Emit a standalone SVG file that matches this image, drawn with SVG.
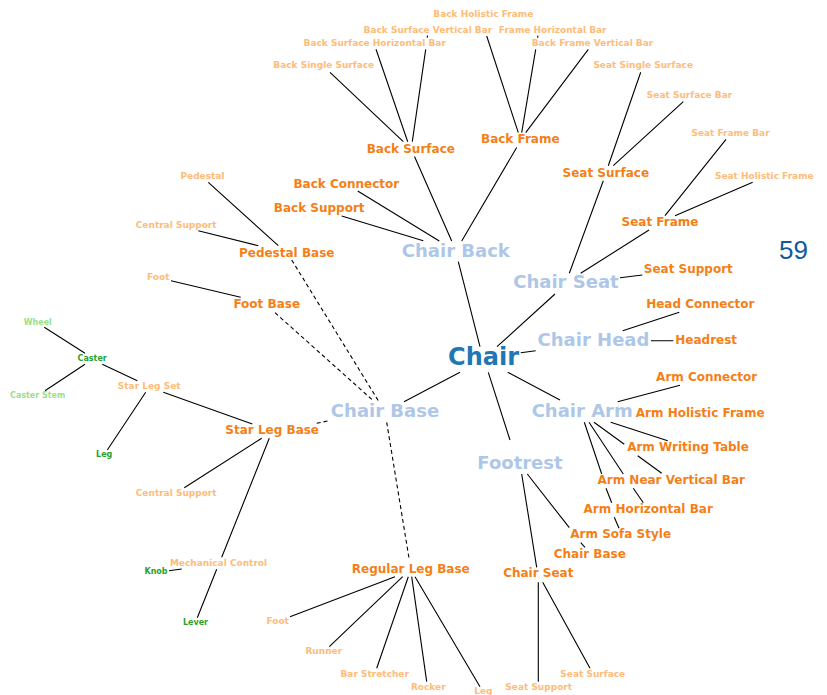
<svg xmlns="http://www.w3.org/2000/svg" width="827" height="695" viewBox="0 0 827 695">
<style>
text{font-family:"DejaVu Sans","Noto Sans",sans-serif;font-weight:bold;text-anchor:middle}
.l0{font-size:24px;fill:#1f77b4}
.l1{font-size:18px;fill:#aec7e8}
.l2{font-size:12px;fill:#f57f17}
.l3{font-size:9px;fill:#ffbb78}
.l4{font-size:8px;fill:#2ca02c}
.l5{font-size:8px;fill:#98df8a}
.num{font-family:"Liberation Sans",Arial,sans-serif;font-weight:normal;font-size:26px;fill:#0f5a9e}
.e{stroke:#000;stroke-width:1.1;fill:none}
.d{stroke:#000;stroke-width:1.1;fill:none;stroke-dasharray:4 3}
</style>
<rect width="827" height="695" fill="#fff"/>
<g id="connectors">
<path class="e" d="M458.3 261.7L480 346.7M555 294L497 346.7M535.7 350.7L520.7 352.7M507.7 372.3L560 400M488.3 372.3L510 440M460 372.3L404 401.7"/>
<path class="e" d="M414.5 156.5L451.7 241M516.7 147.5L461.7 241M357.7 191L439.3 241M341.7 216L423.3 240.7"/>
<path class="e" d="M330 72.3L403.3 141.7M376 49.3L407.7 141.7M425.7 49.3L412.3 141.7M427.4 35.6L427.3 37.8M486.7 36L518.3 132.7M535.7 49.3L521.7 132.7M537.9 35.6L537.7 37.8M588.3 49.3L525.7 132.7"/>
<path class="e" d="M640.7 72.3L608.3 165.7M683.3 101.7L613.3 165.7M603.3 180.7L569.3 273.3M726 139.3L665 215.7M752.7 182.3L675 215.7M649 230L580.7 273.3M642.3 275L620 277.7"/>
<path class="e" d="M622.7 330.7L679.3 312.3M651 340.7L673.3 340.7M617.7 401.7L680 385.3M610.7 422.3L667.7 440.7M594 422.3L624.3 444.3M637.7 455.7L661.7 473.3M589 422.3L623.3 474M633.3 488.3L643.3 502.7M584.3 422.3L601.7 474M606 488.3L611.7 502.7M614.3 517.3L619 528.3"/>
<path class="e" d="M527.3 474L569.3 527.7M580.7 542.7L585 547.3M521.7 474L536.7 567.3M538.3 582.3L538.3 681.7M542.7 582.3L590 668.3"/>
<path class="e" d="M208.3 182.3L278.3 245.7M198.3 230.7L258.3 245.7M171 280.7L240.7 297.3"/>
<path class="e" d="M44.3 327.3L85 353.3M85 364.3L45 390.7M102.3 364.3L137.3 380.7M145.7 392.3L107.3 450M163.3 392.3L252.3 424M261.7 438.3L184.3 487.7M269.3 438.3L221.7 557.3M216.7 569.3L197.3 617.7M169 570.7L181.7 569"/>
<path class="e" d="M395 576.7L290 616.7M402.7 576.7L329.3 646.7M408.3 576.7L376.7 668.3M411.7 576.7L426.7 681.7M415 576.7L480 686.7"/>
<path class="d" d="M291.7 260L378.3 400.7M275 312.7L373.3 400.7M316.7 423.3L329 420.7M386.7 422.3L409.3 560"/>
</g>
<g id="chair"><text class="l0" x="483.5" y="365">Chair</text></g>
<g id="chair-back"><text class="l1" x="455.8" y="256.7">Chair Back</text></g>
<g id="chair-seat"><text class="l1" x="566" y="288.3">Chair Seat</text></g>
<g id="chair-head"><text class="l1" x="593.5" y="345.7">Chair Head</text></g>
<g id="chair-arm"><text class="l1" x="582.2" y="416.6">Chair Arm</text></g>
<g id="chair-base"><text class="l1" x="385" y="416.7">Chair Base</text></g>
<g id="footrest"><text class="l1" x="520" y="469.3">Footrest</text></g>
<g id="back-surface"><text class="l2" x="410.8" y="152.5">Back Surface</text></g>
<g id="back-frame"><text class="l2" x="520.3" y="143.3">Back Frame</text></g>
<g id="back-connector"><text class="l2" x="346.3" y="187.7">Back Connector</text></g>
<g id="back-support"><text class="l2" x="319.2" y="212.3">Back Support</text></g>
<g id="pedestal-base"><text class="l2" x="286.7" y="256.7">Pedestal Base</text></g>
<g id="foot-base"><text class="l2" x="266.7" y="308">Foot Base</text></g>
<g id="star-leg-base"><text class="l2" x="272.2" y="434.3">Star Leg Base</text></g>
<g id="regular-leg-base"><text class="l2" x="410.8" y="572.7">Regular Leg Base</text></g>
<g id="seat-surface"><text class="l2" x="605.8" y="176.7">Seat Surface</text></g>
<g id="seat-frame"><text class="l2" x="660" y="226">Seat Frame</text></g>
<g id="seat-support"><text class="l2" x="688.3" y="273.3">Seat Support</text></g>
<g id="head-connector"><text class="l2" x="700.3" y="308">Head Connector</text></g>
<g id="headrest"><text class="l2" x="706.2" y="344">Headrest</text></g>
<g id="arm-connector"><text class="l2" x="706.7" y="380.7">Arm Connector</text></g>
<g id="arm-holistic-frame"><text class="l2" x="700.2" y="416.7">Arm Holistic Frame</text></g>
<g id="arm-writing-table"><text class="l2" x="688" y="451.3">Arm Writing Table</text></g>
<g id="arm-near-vertical-bar"><text class="l2" x="671.2" y="483.7">Arm Near Vertical Bar</text></g>
<g id="arm-horizontal-bar"><text class="l2" x="648.2" y="512.7">Arm Horizontal Bar</text></g>
<g id="arm-sofa-style"><text class="l2" x="620.7" y="537.7">Arm Sofa Style</text></g>
<g id="footrest-chair-base"><text class="l2" x="589.8" y="557.7">Chair Base</text></g>
<g id="footrest-chair-seat"><text class="l2" x="538.3" y="577.3">Chair Seat</text></g>
<g id="back-holistic-frame"><text class="l3" x="483.3" y="17.3">Back Holistic Frame</text></g>
<g id="back-frame-horizontal-bar"><text class="l3" x="552.7" y="33">Frame Horizontal Bar</text></g>
<g id="back-surface-vertical-bar"><text class="l3" x="427.9" y="33">Back Surface Vertical Bar</text></g>
<g id="back-surface-horizontal-bar"><text class="l3" x="374.7" y="46.3">Back Surface Horizontal Bar</text></g>
<g id="back-single-surface"><text class="l3" x="323.8" y="68.3">Back Single Surface</text></g>
<g id="back-frame-vertical-bar"><text class="l3" x="592.5" y="46.3">Back Frame Vertical Bar</text></g>
<g id="seat-single-surface"><text class="l3" x="643.2" y="68.3">Seat Single Surface</text></g>
<g id="seat-surface-bar"><text class="l3" x="689.5" y="98.3">Seat Surface Bar</text></g>
<g id="seat-frame-bar"><text class="l3" x="730.5" y="135.7">Seat Frame Bar</text></g>
<g id="seat-holistic-frame"><text class="l3" x="764.3" y="179.3">Seat Holistic Frame</text></g>
<g id="pedestal"><text class="l3" x="202.5" y="179">Pedestal</text></g>
<g id="pedestal-central-support"><text class="l3" x="176.2" y="227.7">Central Support</text></g>
<g id="foot-base-foot"><text class="l3" x="158.3" y="279.7">Foot</text></g>
<g id="star-leg-set"><text class="l3" x="149.2" y="389.3">Star Leg Set</text></g>
<g id="star-central-support"><text class="l3" x="176.2" y="495.7">Central Support</text></g>
<g id="mechanical-control"><text class="l3" x="218.5" y="566.3">Mechanical Control</text></g>
<g id="regular-foot"><text class="l3" x="277.7" y="624.3">Foot</text></g>
<g id="runner"><text class="l3" x="323.8" y="654.3">Runner</text></g>
<g id="bar-stretcher"><text class="l3" x="374.7" y="676.7">Bar Stretcher</text></g>
<g id="rocker"><text class="l3" x="428.3" y="690">Rocker</text></g>
<g id="regular-leg"><text class="l3" x="483.3" y="693.5">Leg</text></g>
<g id="footrest-seat-support"><text class="l3" x="538.7" y="690">Seat Support</text></g>
<g id="footrest-seat-surface"><text class="l3" x="592.8" y="676.7">Seat Surface</text></g>
<g id="caster"><text class="l4" x="92.2" y="361.3">Caster</text></g>
<g id="star-leg"><text class="l4" x="104.2" y="456.7">Leg</text></g>
<g id="knob"><text class="l4" x="156" y="574">Knob</text></g>
<g id="lever"><text class="l4" x="195.5" y="624.7">Lever</text></g>
<g id="wheel"><text class="l5" x="37.8" y="324.7">Wheel</text></g>
<g id="caster-stem"><text class="l5" x="37.7" y="398">Caster Stem</text></g>
<g id="count"><text class="num" x="793.5" y="259.3">59</text></g>
</svg>
